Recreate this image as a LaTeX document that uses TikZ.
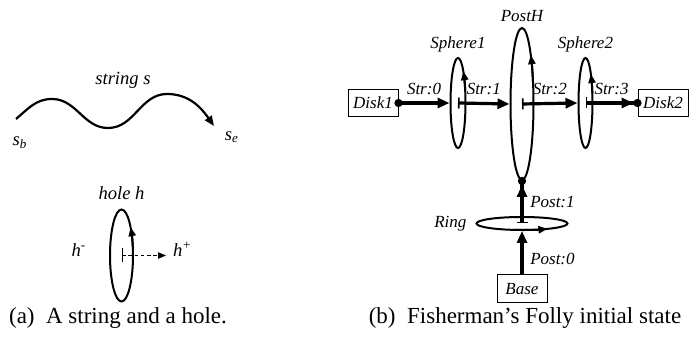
\documentclass[tikz,border=0pt]{standalone}
\usepackage{fontspec}
\setmainfont{Liberation Serif}
\usetikzlibrary{arrows.meta,positioning,calc,shapes.geometric}

\begin{document}
\begin{tikzpicture}[x=0.5pt,y=0.5pt,font=\fontsize{8.5}{10}\selectfont\itshape,
 box/.style={draw,line width=.5pt,minimum width=25pt,minimum height=13.5pt,inner sep=1.5pt},
 loop/.style={draw,ellipse,line width=1pt,inner sep=0pt},
 turn/.style={line width=1pt,-{Triangle[length=4.5pt,width=3.6pt]}},
 rope/.style={line width=1.6pt},
 from dot/.style={{Circle[length=4pt]}-{Triangle[length=6pt,width=5pt]},shorten <=-2pt},
 from bar/.style={{Bar[width=5.5pt,line width=.8pt]}-{Triangle[length=6pt,width=5pt]}},
 bar to dot/.style={{Bar[width=5.5pt,line width=.8pt]}-{Triangle[length=6pt,width=5pt]Circle[length=4pt]},shorten >=-2pt},
 big/.style={font=\fontsize{9.3}{11}\selectfont\itshape},
 subcap/.style={font=\fontsize{11.5}{13}\selectfont\upshape}]
\path[use as bounding box] (0,0) rectangle (692,352);
% (a) string
\coordinate (sbeg) at (16,233);
\coordinate (send) at (214,226);
\draw[line width=1.1pt,-{Triangle[length=5pt,width=4pt]}] (sbeg) to[out=40,in=180] (52,253) to[out=0,in=180] (108,224) to[out=0,in=180] (167,258) to[out=0,in=125] (send);
\node[big] (strlbl) at (123,272) {string s};
\node[big] (sb) at (20,209) {s\textsubscript{b}};
\node[big] (se) at (232,215) {s\textsubscript{e}};
% (a) hole
\node[loop,minimum width=11.5pt,minimum height=46pt] (hole) at (121.5,96.5) {};
\draw[turn] ($(hole.center)+(10:11.5 and 46)$) arc[start angle=10,end angle=38,x radius=11.5,y radius=46];
\node[big,above=1pt of hole] (holelbl) {hole h};
\node[big,anchor=base] (hm) at (79,95) {h\textsuperscript{-}};
\node[big,anchor=base west] (hp) at (166,95) {h\textsuperscript{+}};
\draw[line width=.5pt,dash pattern=on 1.8pt off 1.3pt,{Bar[width=7pt]}-{Triangle[length=4pt,width=3.2pt]}] (hole.center) -- (hole.center -| hp.west);
\node[subcap] (capa) at (118,34) {(a)\enspace A string and a hole.};
% (b) initial state
\node[box] (disk1) at (373,249) {Disk1};
\node[loop,minimum width=7.5pt,minimum height=45pt] (sph1) at (458,249) {};
\node[loop,minimum width=11.5pt,minimum height=76pt] (posth) at (522,248) {};
\node[loop,minimum width=7pt,minimum height=45pt] (sph2) at (585.5,249) {};
\node[box] (disk2) at (663,249) {Disk2};
\node[loop,minimum width=45.5pt,minimum height=6.5pt] (ring) at (522,128.5) {};
\node[box,minimum height=14pt] (base) at (522,63) {Base};
\draw[turn] ($(sph1.center)+(15:7.5 and 45)$) arc[start angle=15,end angle=45,x radius=7.5,y radius=45];
\draw[turn] ($(posth.center)+(15:11.5 and 76)$) arc[start angle=15,end angle=40,x radius=11.5,y radius=76];
\draw[turn] ($(sph2.center)+(12:7 and 45)$) arc[start angle=12,end angle=40,x radius=7,y radius=45];
\draw[turn] ($(ring.center)+(-100:45.5 and 6.5)$) arc[start angle=-100,end angle=-56,x radius=45.5,y radius=6.5];
\node[above=-1pt of sph1] (sph1lbl) {Sphere1};
\node[above=-1pt of posth] (posthlbl) {PostH};
\node[above=-1pt of sph2] (sph2lbl) {Sphere2};
\node[left=1pt of ring] (ringlbl) {Ring};
\draw[rope,from dot] (disk1.east) -- node[above] {Str:0} (sph1.west);
\draw[rope,from bar] (sph1.center) -- node[above] {Str:1} (posth.west);
\draw[rope,from bar] (posth.center) -- node[above] {Str:2} (sph2.west);
\draw[rope,bar to dot] (sph2.center) -- node[above] {Str:3} (disk2.west);
\draw[rope,-{Triangle[length=6pt,width=5pt]}] (base.north) -- node[right,pos=.35] {Post:0} (ring.south);
\draw[rope,bar to dot] (ring.center) -- node[right] {Post:1} (posth.south);
\node[subcap] (capb) at (525,34) {(b)\enspace Fisherman's Folly initial state};
\end{tikzpicture}
\end{document}
